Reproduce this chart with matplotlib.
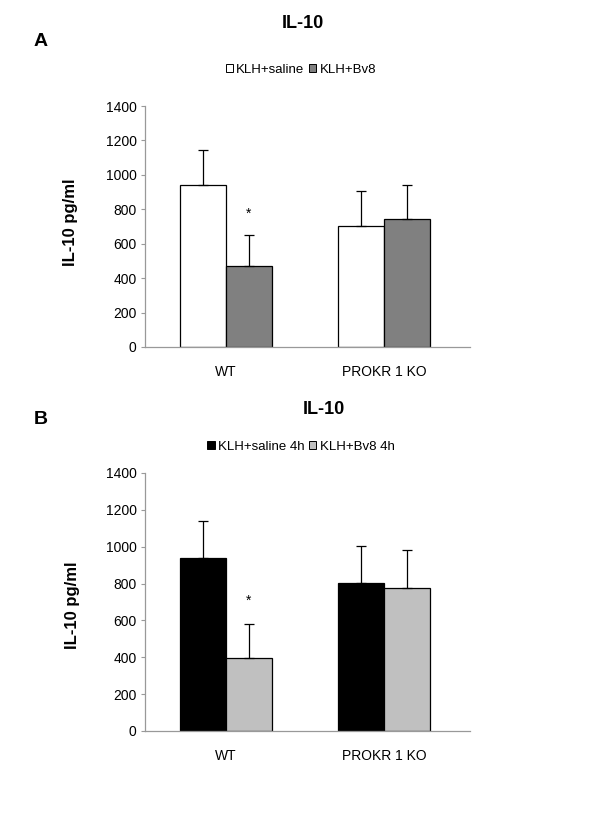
import numpy as np
import matplotlib
matplotlib.use("Agg")
import matplotlib.pyplot as plt
from matplotlib.patches import Patch

plt.rcParams['font.family'] = ['Liberation Sans', 'DejaVu Sans']

groups = ['WT', 'PROKR 1 KO']

# panel A
a_saline = [940, 700]
a_saline_err = [205, 205]
a_bv8 = [470, 745]
a_bv8_err = [180, 197]

# panel B
b_saline = [940, 803]
b_saline_err = [200, 200]
b_bv8 = [396, 776]
b_bv8_err = [184, 204]

star_a = 775
star_b = 709

fig = plt.figure(figsize=(6.0, 8.17), dpi=100)
W, H = 600, 817


def panel(rect, saline, saline_err, bv8, bv8_err, c1, c2, star_y):
    l, t, r, b = rect
    ax = fig.add_axes([l / W, 1 - b / H, (r - l) / W, (b - t) / H])
    x = np.arange(len(groups))
    w = 0.29
    ax.bar(x - w / 2, saline, w, color=c1, edgecolor='black', linewidth=0.9, zorder=2)
    ax.bar(x + w / 2, bv8, w, color=c2, edgecolor='black', linewidth=0.9, zorder=2)
    ax.errorbar(x - w / 2, saline, yerr=[np.zeros(2), saline_err], fmt='none',
                ecolor='black', elinewidth=0.9, capsize=3.5, capthick=0.9, zorder=3)
    ax.errorbar(x + w / 2, bv8, yerr=[np.zeros(2), bv8_err], fmt='none',
                ecolor='black', elinewidth=0.9, capsize=3.5, capthick=0.9, zorder=3)
    ax.text(0 + w / 2, star_y, '*', ha='center', va='center', fontsize=10)
    ax.set_xlim(-0.51, 1.54)
    ax.set_ylim(0, 1400)
    ax.set_yticks(range(0, 1401, 200))
    ax.set_xticks(x)
    ax.set_xticklabels(groups, fontsize=10)
    ax.tick_params(axis='x', length=0, pad=13)
    ax.tick_params(axis='y', length=3, color='#999999', labelsize=10, pad=3)
    for s in ['top', 'right']:
        ax.spines[s].set_visible(False)
    for s in ['left', 'bottom']:
        ax.spines[s].set_color('#999999')
        ax.spines[s].set_linewidth(0.9)
    handles = [Patch(facecolor=c1, edgecolor='black', linewidth=0.7),
               Patch(facecolor=c2, edgecolor='black', linewidth=0.7)]
    return ax, handles


leg_kw = dict(loc='center', ncol=2, frameon=False, fontsize=9.5, handlelength=0.55,
              handleheight=0.55, handletextpad=0.25, columnspacing=0.35)

ax_a, h_a = panel((145, 106, 470, 347), a_saline, a_saline_err, a_bv8, a_bv8_err,
                  'white', '#808080', star_a)
fig.text(303 / W, 1 - 23 / H, 'IL-10', ha='center', va='center', fontsize=13, fontweight='bold')
fig.text(41 / W, 1 - 42 / H, 'A', ha='center', va='center', fontsize=14, fontweight='bold')
fig.text(70 / W, 1 - 222 / H, 'IL-10 pg/ml', ha='center', va='center', rotation=90,
         fontsize=12, fontweight='bold')
fig.legend(h_a, ['KLH+saline', 'KLH+Bv8'], bbox_to_anchor=(301 / W, 1 - 70 / H), **leg_kw)

ax_b, h_b = panel((145, 473, 470, 731), b_saline, b_saline_err, b_bv8, b_bv8_err,
                  'black', '#c0c0c0', star_b)
fig.text(324 / W, 1 - 409 / H, 'IL-10', ha='center', va='center', fontsize=13, fontweight='bold')
fig.text(41 / W, 1 - 419 / H, 'B', ha='center', va='center', fontsize=14, fontweight='bold')
fig.text(72 / W, 1 - 605 / H, 'IL-10 pg/ml', ha='center', va='center', rotation=90,
         fontsize=12, fontweight='bold')
fig.legend(h_b, ['KLH+saline 4h', 'KLH+Bv8 4h'], bbox_to_anchor=(301 / W, 1 - 447 / H), **leg_kw)

fig.savefig('out.png', dpi=100)
